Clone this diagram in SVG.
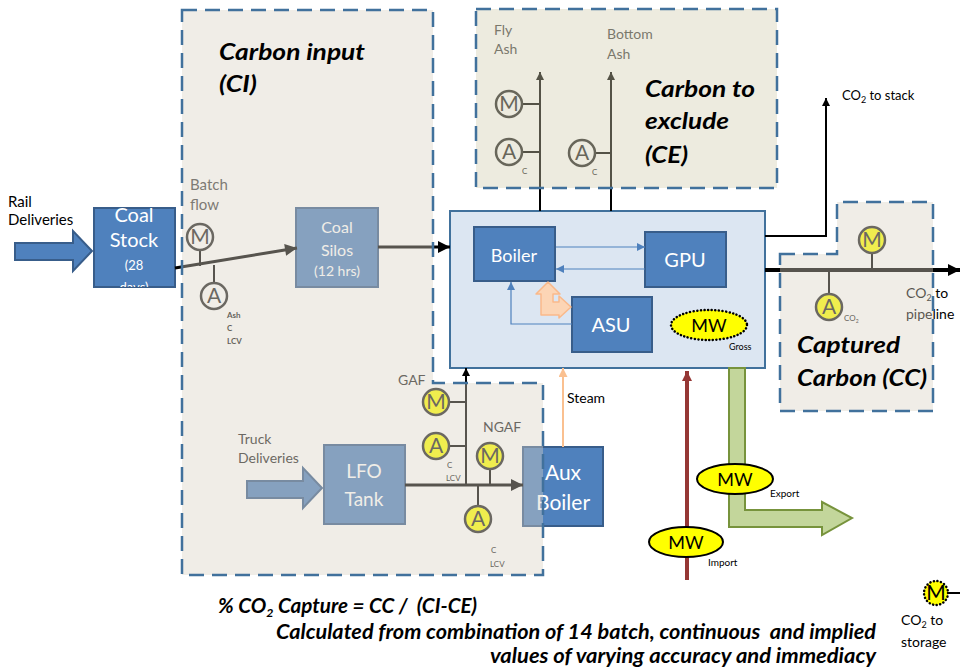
<svg xmlns="http://www.w3.org/2000/svg" width="960" height="670" viewBox="0 0 960 670">
<defs>
<style>
text{font-family:Lato,"Liberation Sans",sans-serif}
.blk{fill:#4F81BD;stroke:#385D8A;stroke-width:2}
.wt{fill:#fff;text-anchor:middle}
.lbl{fill:#000;font-size:14px}
.gry{fill:#404040;font-size:14px}
.ttl{fill:#000;font-size:23px;font-weight:bold;font-style:italic}
.meter{stroke:#222;stroke-width:2.5}
.mt{font-size:21px;text-anchor:middle;fill:#222}
.sm{font-size:8px;fill:#111}
.region{fill:#D9D3C3;fill-opacity:0.4;stroke:#41719C;stroke-width:2.5;stroke-dasharray:15 8}
.mw{fill:#FFFF00;stroke:#000;stroke-width:2}
.mwt{font-size:18px;text-anchor:middle;fill:#000}
.thin{stroke:#4F81BD;stroke-width:1.2;fill:none}
</style>
<marker id="ahK" viewBox="0 0 10 10" refX="10" refY="5" markerWidth="13" markerHeight="12" markerUnits="userSpaceOnUse" orient="auto"><path d="M0,0 L10,5 L0,10 Z" fill="#000"/></marker>
<marker id="ahS" viewBox="0 0 10 10" refX="10" refY="5" markerWidth="9" markerHeight="8" markerUnits="userSpaceOnUse" orient="auto"><path d="M0,0 L10,5 L0,10 Z" fill="#000"/></marker>
<marker id="ahB" viewBox="0 0 10 10" refX="10" refY="5" markerWidth="9" markerHeight="8" markerUnits="userSpaceOnUse" orient="auto"><path d="M0,0 L10,5 L0,10 Z" fill="#4F81BD"/></marker>
<marker id="ahO" viewBox="0 0 10 10" refX="10" refY="5" markerWidth="10" markerHeight="9" markerUnits="userSpaceOnUse" orient="auto"><path d="M0,0 L10,5 L0,10 Z" fill="#FAC090"/></marker>
<marker id="ahR" viewBox="0 0 10 10" refX="10" refY="5" markerWidth="10" markerHeight="10" markerUnits="userSpaceOnUse" orient="auto"><path d="M0,0 L10,5 L0,10 Z" fill="#953735"/></marker>
<clipPath id="csClip"><rect x="94" y="200" width="81" height="87"/></clipPath>
</defs>
<rect width="960" height="670" fill="#fff"/>

<!-- Plant -->
<g id="plant">
<rect x="450" y="211" width="315" height="157" fill="#DCE6F2" stroke="#41719C" stroke-width="2"/>
</g>
<g id="boiler"><rect class="blk" x="474" y="227" width="81" height="54"/><text class="wt" x="514" y="262" font-size="18">Boiler</text></g>
<g id="gpu"><rect class="blk" x="645" y="232" width="81" height="55"/><text class="wt" x="685" y="267" font-size="20">GPU</text></g>
<g id="asu"><rect class="blk" x="572" y="297" width="80" height="55"/><text class="wt" x="611" y="332" font-size="20">ASU</text></g>
<g id="mw-gross"><ellipse cx="709" cy="325" rx="38" ry="15" fill="#FFFF00" stroke="#000" stroke-width="2.5" stroke-dasharray="0.1 3.5" stroke-linecap="round"/><text class="mwt" x="709" y="332">MW</text><text x="729" y="350" font-size="9" fill="#000">Gross</text></g>

<!-- Coal stock -->
<g id="rail-arrow"><path class="blk" d="M15,243 H73 V231 L92,251 L73,271 V260 H15 Z"/><text class="lbl" x="8" y="207" style="font-size:15px">Rail</text><text class="lbl" x="8" y="225" style="font-size:15px">Deliveries</text></g>
<g id="coal-stock"><rect class="blk" x="94" y="208" width="81" height="79"/>
<g clip-path="url(#csClip)"><text class="wt" x="134" y="222" font-size="20">Coal</text><text class="wt" x="134" y="247" font-size="20">Stock</text><text class="wt" x="134" y="270" font-size="13">(28</text><text class="wt" x="134" y="292" font-size="13">days)</text></g></g>
<g id="coal-silos"><rect class="blk" x="296" y="208" width="82" height="79"/><text class="wt" x="337" y="233" font-size="16">Coal</text><text class="wt" x="337" y="256" font-size="16">Silos</text><text class="wt" x="337" y="276" font-size="14">(12 hrs)</text></g>
<g id="truck-arrow"><path class="blk" d="M247,481 H303 V468 L322,488 L303,508 V498 H247 Z"/><text class="gry" x="238" y="444" style="fill:#222">Truck</text><text class="gry" x="238" y="463" style="fill:#222">Deliveries</text></g>
<g id="lfo-tank"><rect class="blk" x="324" y="445" width="81" height="79"/><text class="wt" x="364" y="478" font-size="19">LFO</text><text class="wt" x="364" y="506" font-size="19">Tank</text></g>
<g id="aux-boiler"><rect class="blk" x="523" y="447" width="80" height="79"/><text class="wt" x="563" y="480" font-size="21">Aux</text><text class="wt" x="563" y="510" font-size="21">Boiler</text></g>

<!-- Connectors -->
<g id="connectors">
<line x1="175" y1="268" x2="297" y2="248" stroke="#000" stroke-width="3" marker-end="url(#ahK)"/>
<line x1="378" y1="247" x2="450" y2="247" stroke="#000" stroke-width="3" marker-end="url(#ahK)"/>
<line x1="405" y1="485" x2="523" y2="485" stroke="#000" stroke-width="3" marker-end="url(#ahK)"/>
<line x1="466" y1="485" x2="466" y2="368" stroke="#000" stroke-width="2" marker-end="url(#ahS)"/>
<line x1="540" y1="211" x2="540" y2="72" stroke="#000" stroke-width="2" marker-end="url(#ahS)"/>
<line x1="611" y1="211" x2="611" y2="72" stroke="#000" stroke-width="2" marker-end="url(#ahS)"/>
<polyline points="765,236 826,236 826,98" fill="none" stroke="#000" stroke-width="2" marker-end="url(#ahS)"/>
<line x1="765" y1="270" x2="960" y2="270" stroke="#000" stroke-width="4" marker-end="url(#ahK)"/>
<line x1="556" y1="247" x2="645" y2="247" class="thin" marker-end="url(#ahB)"/>
<line x1="645" y1="269" x2="556" y2="269" class="thin" marker-end="url(#ahB)"/>
<polyline points="572,324 511,324 511,282" class="thin" marker-end="url(#ahB)"/>
<path d="M548,282 L560,294 L553,294 L553,302 L559,302 L559,296 L571,307 L559,318 L559,315 L541,315 L541,294 L536,294 Z" fill="#FCD5B5" stroke="#FAB98A" stroke-width="1.5" stroke-linejoin="round"/>
<line x1="563" y1="447" x2="563" y2="368" stroke="#FAC090" stroke-width="2" marker-end="url(#ahO)"/>
<line x1="687" y1="580" x2="687" y2="371" stroke="#953735" stroke-width="4" marker-end="url(#ahR)"/>
<path d="M729,368 V527 H822 V535 L852,518 L822,502 V510 H745 V368 Z" fill="#C3D69B" stroke="#77933C" stroke-width="2"/>
<line x1="948" y1="593" x2="960" y2="593" stroke="#000" stroke-width="2"/>
</g>

<!-- Meters inside regions -->
<g id="meter-batch-m"><line x1="200" y1="250" x2="200" y2="266" stroke="#000" stroke-width="2"/><circle class="meter" cx="200" cy="237" r="13" fill="none"/><text class="mt" x="200" y="244">M</text><text class="gry" x="190" y="190" style="font-size:15px">Batch</text><text class="gry" x="190" y="210" style="font-size:15px">flow</text></g>
<g id="meter-batch-a"><line x1="214" y1="265" x2="214" y2="283" stroke="#000" stroke-width="2"/><circle class="meter" cx="214" cy="296" r="13" fill="none"/><text class="mt" x="214" y="303">A</text><text class="sm" x="227" y="318" font-weight="bold">Ash</text><text class="sm" x="227" y="331" font-weight="bold">C</text><text class="sm" x="227" y="344" font-weight="bold">LCV</text></g>
<g id="meter-gaf-m"><line x1="449" y1="402" x2="466" y2="402" stroke="#000" stroke-width="2"/><circle class="meter" cx="436" cy="402" r="13" fill="#FFFF00"/><text class="mt" x="436" y="409">M</text><text class="lbl" x="398" y="385" style="fill:#222">GAF</text></g>
<g id="meter-gaf-a"><line x1="449" y1="446" x2="466" y2="446" stroke="#000" stroke-width="2"/><circle class="meter" cx="436" cy="446" r="13" fill="#FFFF00"/><text class="mt" x="436" y="453">A</text><text class="sm" x="447" y="468">C</text><text class="sm" x="446" y="481">LCV</text></g>
<g id="meter-ngaf-m"><line x1="490" y1="469" x2="490" y2="485" stroke="#000" stroke-width="2"/><circle class="meter" cx="490" cy="456" r="13" fill="#FFFF00"/><text class="mt" x="490" y="463">M</text><text class="lbl" x="483" y="432" style="fill:#222">NGAF</text></g>
<g id="meter-ngaf-a"><line x1="478" y1="485" x2="478" y2="506" stroke="#000" stroke-width="2"/><circle class="meter" cx="478" cy="519" r="13" fill="#FFFF00"/><text class="mt" x="478" y="526">A</text><text class="sm" x="491" y="553">C</text><text class="sm" x="490" y="567">LCV</text></g>
<g id="meter-fly-m"><line x1="522" y1="104" x2="540" y2="104" stroke="#000" stroke-width="2"/><circle class="meter" cx="509" cy="104" r="13" fill="none"/><text class="mt" x="509" y="111">M</text><text class="gry" x="494" y="35">Fly</text><text class="gry" x="494" y="54">Ash</text></g>
<g id="meter-fly-a"><line x1="522" y1="152" x2="540" y2="152" stroke="#000" stroke-width="2"/><circle class="meter" cx="509" cy="152" r="13" fill="none"/><text class="mt" x="509" y="159">A</text><text class="sm" x="522" y="174">C</text></g>
<g id="meter-bottom-a"><line x1="595" y1="153" x2="611" y2="153" stroke="#000" stroke-width="2"/><circle class="meter" cx="582" cy="153" r="13" fill="none"/><text class="mt" x="582" y="160">A</text><text class="sm" x="592" y="175">C</text><text class="gry" x="607" y="39">Bottom</text><text class="gry" x="607" y="59">Ash</text></g>
<g id="meter-cc-m"><line x1="872" y1="253" x2="872" y2="270" stroke="#000" stroke-width="2"/><circle class="meter" cx="872" cy="240" r="13" fill="#FFFF00"/><text class="mt" x="872" y="247">M</text></g>
<g id="meter-cc-a"><line x1="829" y1="270" x2="829" y2="294" stroke="#000" stroke-width="2"/><circle class="meter" cx="829" cy="307" r="13" fill="#FFFF00"/><text class="sm" x="844" y="321">CO<tspan font-size="5" dy="2">2</tspan></text><text class="mt" x="829" y="314">A</text></g>
<g id="pipeline-label"><text class="lbl" x="906" y="298">CO<tspan font-size="9" dy="3">2</tspan><tspan dy="-3"> to</tspan></text><text class="lbl" x="906" y="319">pipeline</text></g>

<!-- Regions -->
<g id="region-ci"><path class="region" d="M182,10 H433 V383 H543 V575 H182 Z"/><text class="ttl" x="219" y="60" textLength="146" lengthAdjust="spacingAndGlyphs">Carbon input</text><text class="ttl" x="219" y="92" textLength="38" lengthAdjust="spacingAndGlyphs">(CI)</text></g>
<g id="region-ce"><rect class="region" x="476" y="9" width="301" height="179" style="fill:#D2CCB0"/><text class="ttl" x="645" y="97" textLength="110" lengthAdjust="spacingAndGlyphs">Carbon to</text><text class="ttl" x="645" y="129" textLength="84" lengthAdjust="spacingAndGlyphs">exclude</text><text class="ttl" x="645" y="163" textLength="43" lengthAdjust="spacingAndGlyphs">(CE)</text></g>
<g id="region-cc"><path class="region" d="M780,254 H837 V202 H933 V411 H780 Z"/><text class="ttl" x="797" y="353" textLength="103" lengthAdjust="spacingAndGlyphs">Captured</text><text class="ttl" x="797" y="386" textLength="130" lengthAdjust="spacingAndGlyphs">Carbon (CC)</text></g>

<!-- Outside labels and meters -->
<g id="steam-label"><text class="lbl" x="567" y="403">Steam</text></g>
<g id="stack-label"><text x="842" y="100" font-size="13" fill="#000">CO<tspan font-size="9" dy="3">2</tspan><tspan dy="-3"> to stack</tspan></text></g>
<g id="mw-export"><ellipse class="mw" cx="735" cy="479" rx="38" ry="15"/><text class="mwt" x="735" y="486">MW</text><text x="770" y="497" font-size="10" fill="#000">Export</text></g>
<g id="mw-import"><ellipse class="mw" cx="686" cy="542" rx="37" ry="15"/><text class="mwt" x="686" y="549">MW</text><text x="708" y="566" font-size="10" fill="#000">Import</text></g>
<g id="meter-storage"><circle cx="936" cy="593" r="12" fill="#FFFF00" stroke="#000" stroke-width="2.5" stroke-dasharray="0.1 3.5" stroke-linecap="round"/><text class="mt" x="936" y="600" style="fill:#000">M</text><text class="lbl" x="901" y="625">CO<tspan font-size="9" dy="3">2</tspan><tspan dy="-3"> to</tspan></text><text class="lbl" x="901" y="647">storage</text></g>

<g id="formula" font-weight="bold" font-style="italic" fill="#000">
<text x="218" y="613" font-size="20" xml:space="preserve" textLength="259" lengthAdjust="spacingAndGlyphs">% CO<tspan font-size="12" dy="4">2</tspan><tspan dy="-4"> Capture = CC /  (CI-CE)</tspan></text>
<text x="876" y="639" font-size="20" text-anchor="end" xml:space="preserve" textLength="600" lengthAdjust="spacingAndGlyphs">Calculated from combination of 14 batch, continuous  and implied</text>
<text x="876" y="663" font-size="20" text-anchor="end" textLength="386" lengthAdjust="spacingAndGlyphs">values of varying accuracy and immediacy</text>
</g>
</svg>
